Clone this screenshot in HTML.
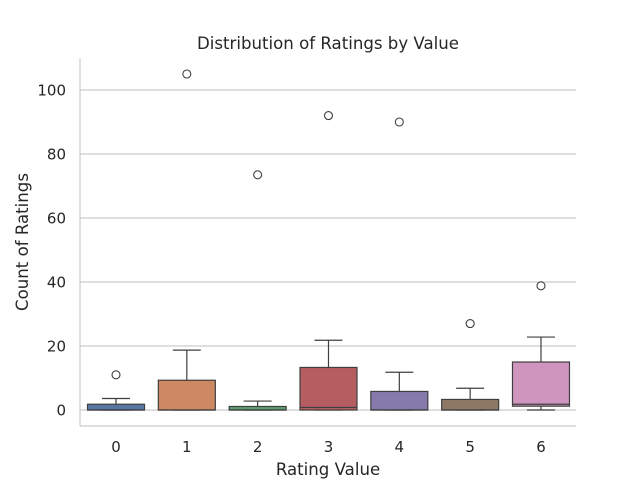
<!DOCTYPE html>
<html><head><meta charset="utf-8"><style>
body{margin:0;background:#fff}
svg{display:block;font-family:"DejaVu Sans","Liberation Sans",sans-serif}
</style></head><body>
<svg id="chart" width="640" height="480">
<text x="328" y="49" text-anchor="middle" font-size="16.6" fill="#262626">Distribution of Ratings by Value</text>
<text x="328" y="475" text-anchor="middle" font-size="16.6" fill="#262626">Rating Value</text>
<text transform="translate(28,242) rotate(-90)" text-anchor="middle" font-size="16.6" fill="#262626">Count of Ratings</text>
<g id="grid"></g><g id="marks"></g>
<line x1="80" y1="58" x2="80" y2="426" stroke="#cccccc" stroke-width="1.2"/>
<line x1="80" y1="426" x2="576" y2="426" stroke="#cccccc" stroke-width="1.2"/>
</svg>
<script>
const categories=["0","1","2","3","4","5","6"];
const q1=[0,0,0,0,0,0,1.2];
const medians=[0,0,0,0.8,0,0,1.8];
const q3=[1.8,9.3,1.1,13.3,5.8,3.3,15];
const whiskLow=[0,0,0,0,0,0,0];
const whiskHigh=[3.6,18.7,2.8,21.8,11.8,6.8,22.8];
const outliers=[[11],[105],[73.5],[92],[90],[27],[38.8]];
const yTicks=[0,20,40,60,80,100];
const colors=["#5975a4","#cc8963","#5f9e6e","#b55d60","#857aab","#8d7866","#d095bf"];
const NS="http://www.w3.org/2000/svg";
const y=v=>410-v*3.2;
const x=i=>116+i*70.83;
const bw=57;
function mk(t,a,p){const e=document.createElementNS(NS,t);for(const k in a)e.setAttribute(k,a[k]);p.appendChild(e);return e;}
const g=document.getElementById('grid'),m=document.getElementById('marks');
yTicks.forEach(t=>{
 const l=mk('line',{x1:80,x2:576,y1:y(t),y2:y(t),stroke:'#cccccc','stroke-width':1.2},g);
 
 
 const tx=mk('text',{x:66,y:y(t)+5.5,'text-anchor':'end','font-size':15,fill:'#262626'},g);
 tx.textContent=t;
 
 
});
categories.forEach((c,i)=>{
 const cx=x(i);
 const tx=mk('text',{x:cx,y:452,'text-anchor':'middle','font-size':15,fill:'#262626'},g);
 tx.textContent=c;
 
 
 const s='#3f3f3f';
 const w1=mk('line',{x1:cx,x2:cx,y1:y(q3[i]),y2:y(whiskHigh[i]),stroke:s,'stroke-width':1.2},m);
 
 
 const c1=mk('line',{x1:cx-14,x2:cx+14,y1:y(whiskHigh[i]),y2:y(whiskHigh[i]),stroke:s,'stroke-width':1.2},m);
 
 
 const w2=mk('line',{x1:cx,x2:cx,y1:y(q1[i]),y2:y(whiskLow[i]),stroke:s,'stroke-width':1.2},m);
 
 
 const c2=mk('line',{x1:cx-14,x2:cx+14,y1:y(whiskLow[i]),y2:y(whiskLow[i]),stroke:s,'stroke-width':1.2},m);
 
 
 const b=mk('rect',{x:cx-bw/2,y:y(q3[i]),width:bw,height:Math.max(y(q1[i])-y(q3[i]),0.5),fill:colors[i],stroke:s,'stroke-width':1.2},m);
 
 
 const md=mk('line',{x1:cx-bw/2,x2:cx+bw/2,y1:y(medians[i]),y2:y(medians[i]),stroke:s,'stroke-width':1.2},m);
 
 
 outliers[i].forEach(v=>{
  const o=mk('circle',{cx:cx,cy:y(v),r:4,fill:'none',stroke:s,'stroke-width':1.1},m);
  
  
 });
});
</script>
</body></html>
